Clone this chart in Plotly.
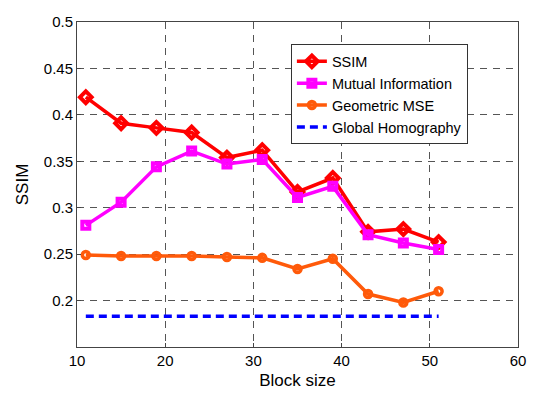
import plotly.graph_objects as go

block_size = [11, 15, 19, 23, 27, 31, 35, 39, 43, 47, 51]
ssim = [0.419, 0.391, 0.386, 0.381, 0.354, 0.362, 0.317, 0.332, 0.274, 0.277, 0.263]
mutual_info = [0.281, 0.306, 0.344, 0.361, 0.347, 0.352, 0.311, 0.323, 0.271, 0.262, 0.255]
geometric_mse = [0.249, 0.248, 0.248, 0.248, 0.247, 0.246, 0.234, 0.245, 0.207, 0.198, 0.210]
global_homography = [0.183] * len(block_size)

x_ticks = [10, 20, 30, 40, 50, 60]
y_ticks = [0.2, 0.25, 0.3, 0.35, 0.4, 0.45, 0.5]
y_tick_text = ["0.2", "0.25", "0.3", "0.35", "0.4", "0.45", "0.5"]

FONT = "Arial, Liberation Sans, sans-serif"

fig = go.Figure()
fig.add_trace(go.Scatter(
    x=block_size, y=ssim, name="SSIM", mode="lines+markers",
    line=dict(color="#FF0000", width=3.5),
    marker=dict(symbol="diamond-open", size=9, color="#FF0000", line=dict(width=4, color="#FF0000")),
))
fig.add_trace(go.Scatter(
    x=block_size, y=mutual_info, name="Mutual Information", mode="lines+markers",
    line=dict(color="#FF00FF", width=3.5),
    marker=dict(symbol="square-open", size=7, color="#FF00FF", line=dict(width=4, color="#FF00FF")),
))
fig.add_trace(go.Scatter(
    x=block_size, y=geometric_mse, name="Geometric MSE", mode="lines+markers",
    line=dict(color="#FF5A0A", width=3.5),
    marker=dict(symbol="circle-open", size=7, color="#FF5A0A", line=dict(width=3.5, color="#FF5A0A")),
))
fig.add_trace(go.Scatter(
    x=block_size, y=global_homography, name="Global Homography", mode="lines",
    line=dict(color="#0000FF", width=3.5, dash="8px,5px"),
))

axis_common = dict(
    automargin=False,
    showline=True, mirror=True, linecolor="#444444", linewidth=1,
    showgrid=True, gridcolor="#555555", gridwidth=1, griddash="7px,6px",
    zeroline=False, ticks="inside", ticklen=4, tickcolor="#444444",
    tickfont=dict(family=FONT, size=15, color="black"),
)

fig.update_xaxes(
    range=[10, 60], tickvals=x_ticks,
    title=dict(text="Block size", font=dict(family=FONT, size=17, color="black"), standoff=6),
    **axis_common,
)
fig.update_yaxes(
    range=[0.15, 0.5], tickvals=y_ticks, ticktext=y_tick_text,
    title=dict(text="SSIM", font=dict(family=FONT, size=17, color="black"), standoff=10),
    **axis_common,
)

fig.update_layout(
    template="none",
    width=542, height=390,
    margin=dict(l=69, r=32, t=14, b=51, autoexpand=False),
    paper_bgcolor="white", plot_bgcolor="white",
    showlegend=True,
    legend=dict(
        x=0.485, y=0.931, xanchor="left", yanchor="top",
        bgcolor="white", bordercolor="#333333", borderwidth=1,
        font=dict(family=FONT, size=14.5, color="black"),
        itemwidth=30, tracegroupgap=0,
    ),
    font=dict(family=FONT),
)

fig.write_html("out.html")
